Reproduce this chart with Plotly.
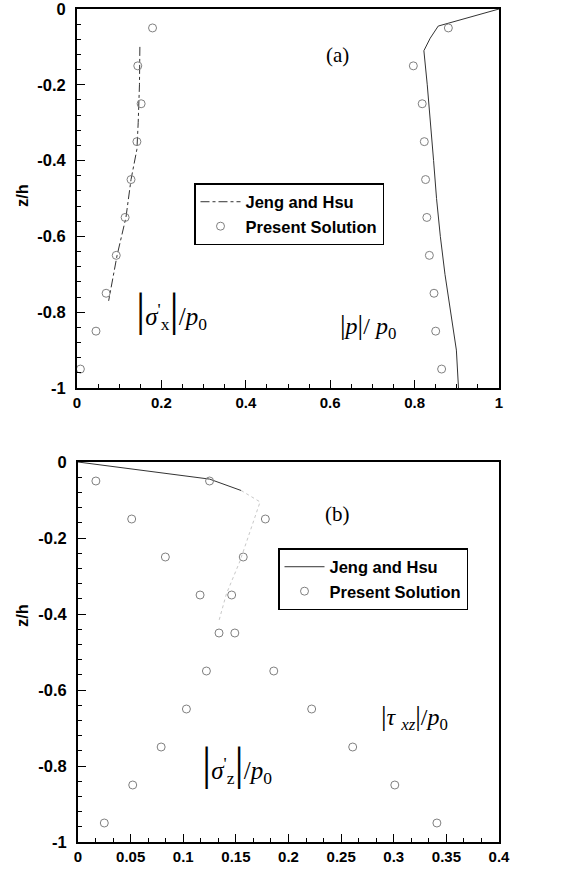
import plotly.graph_objects as go

# ---------------- data: panel (a) ----------------
z_markers = [-0.05, -0.15, -0.25, -0.35, -0.45, -0.55, -0.65, -0.75, -0.85, -0.95]
sx_present = [0.179, 0.144, 0.152, 0.142, 0.128, 0.114, 0.093, 0.069, 0.045, 0.008]
p_present = [0.880, 0.797, 0.818, 0.823, 0.826, 0.829, 0.835, 0.846, 0.850, 0.864]

sx_jh_z = [-0.10, -0.20, -0.30, -0.37, -0.45, -0.55, -0.65, -0.77]
sx_jh_x = [0.149, 0.148, 0.145, 0.142, 0.128, 0.116, 0.095, 0.075]
p_jh_z = [0.0, -0.045, -0.077, -0.11, -0.2, -0.3, -0.4, -0.5, -0.6, -0.7, -0.8, -0.9, -1.0]
p_jh_x = [1.0, 0.856, 0.837, 0.822, 0.830, 0.838, 0.845, 0.852, 0.861, 0.872, 0.886, 0.899, 0.904]

# ---------------- data: panel (b) ----------------
sz_present = [0.017, 0.051, 0.083, 0.116, 0.134, 0.122, 0.103, 0.079, 0.052, 0.025]
txz_present = [0.125, 0.178, 0.157, 0.146, 0.149, 0.186, 0.222, 0.261, 0.301, 0.341]
txz_jh_z = [0.0, -0.045, -0.075]
txz_jh_x = [0.0, 0.125, 0.155]
txz_faint_z = [-0.075, -0.105, -0.154, -0.26, -0.347, -0.417]
txz_faint_x = [0.155, 0.173, 0.167, 0.154, 0.141, 0.134]

# ---------------- tick labels ----------------
xa_ticks = [0, 0.2, 0.4, 0.6, 0.8, 1]
xa_text = ["0", "0.2", "0.4", "0.6", "0.8", "1"]
xb_ticks = [0, 0.05, 0.1, 0.15, 0.2, 0.25, 0.3, 0.35, 0.4]
xb_text = ["0", "0.05", "0.1", "0.15", "0.2", "0.25", "0.3", "0.35", "0.4"]
y_ticks = [0, -0.2, -0.4, -0.6, -0.8, -1]
y_text = ["0", "-0.2", "-0.4", "-0.6", "-0.8", "-1"]

W, H = 573, 874
ML, MR, MT, MB = 77, 74, 9, 32
PW, PH = W - ML - MR, H - MT - MB

def clamp(v):
    return max(0.0, min(1.0, v))

def px_x(x):
    return (x - ML) / PW

def px_y(y):
    return 1 - (y - MT) / PH

def bold(lst):
    return ["<b>%s</b>" % s for s in lst]

fig = go.Figure()

mk = dict(symbol="circle-open", size=8, color="#808080", line=dict(width=1, color="#808080"))
line_a = dict(color="#333333", width=1, dash="dashdot")

# panel (a)
fig.add_trace(go.Scatter(x=sx_jh_x, y=sx_jh_z, mode="lines", line=line_a,
                         name="Jeng and Hsu", legend="legend", legendgroup="a1",
                         xaxis="x", yaxis="y"))
fig.add_trace(go.Scatter(x=p_jh_x, y=p_jh_z, mode="lines", line=dict(color="#333333", width=1),
                         name="Jeng and Hsu", showlegend=False, legendgroup="a1",
                         xaxis="x", yaxis="y"))
fig.add_trace(go.Scatter(x=sx_present, y=z_markers, mode="markers", marker=mk,
                         name="Present Solution", legend="legend", legendgroup="a2",
                         xaxis="x", yaxis="y"))
fig.add_trace(go.Scatter(x=p_present, y=z_markers, mode="markers", marker=mk,
                         name="Present Solution", showlegend=False, legendgroup="a2",
                         xaxis="x", yaxis="y"))

# panel (b)
fig.add_trace(go.Scatter(x=txz_jh_x, y=txz_jh_z, mode="lines", line=dict(color="#333333", width=1),
                         name="Jeng and Hsu", legend="legend2", legendgroup="b1",
                         xaxis="x2", yaxis="y2"))
fig.add_trace(go.Scatter(x=txz_faint_x, y=txz_faint_z, mode="lines",
                         line=dict(color="#c8c8c8", width=1, dash="dot"),
                         showlegend=False, legendgroup="b1", xaxis="x2", yaxis="y2"))
fig.add_trace(go.Scatter(x=sz_present, y=z_markers, mode="markers", marker=mk,
                         name="Present Solution", legend="legend2", legendgroup="b2",
                         xaxis="x2", yaxis="y2"))
fig.add_trace(go.Scatter(x=txz_present, y=z_markers, mode="markers", marker=mk,
                         name="Present Solution", showlegend=False, legendgroup="b2",
                         xaxis="x2", yaxis="y2"))

xfont = dict(family="Liberation Sans, Arial", size=15, color="black")
yfont = dict(family="Liberation Sans, Arial", size=16.5, color="black")
common = dict(showline=True, linecolor="black", linewidth=2, mirror=True,
              ticks="inside", ticklen=8, tickwidth=1.3, tickcolor="black",
              showgrid=False, zeroline=False, automargin=False,
              ticklabeloverflow="allow")

top_dom = [clamp(px_y(388)), clamp(px_y(9))]
bot_dom = [clamp(px_y(842)), clamp(px_y(462))]
legfont = dict(family="Liberation Sans, Arial", size=16.5, color="black", weight="bold")

fig.update_layout(
    width=W, height=H,
    margin=dict(l=ML, r=MR, t=MT, b=MB),
    plot_bgcolor="white", paper_bgcolor="white",
    xaxis=dict(domain=[0, 1], range=[0, 1], anchor="y", tickmode="array",
               tickvals=xa_ticks, ticktext=bold(xa_text), tickfont=xfont,
               minor=dict(dtick=0.05, ticks="inside", ticklen=4, tickcolor="black"), **common),
    yaxis=dict(domain=top_dom, range=[-1, 0], anchor="x", tickmode="array",
               tickvals=y_ticks, ticktext=bold(y_text), tickfont=yfont, ticklabelstandoff=6,
               minor=dict(dtick=0.04, ticks="inside", ticklen=4, tickcolor="black"), **common),
    xaxis2=dict(domain=[clamp(px_x(78)), clamp(px_x(499))], range=[0, 0.4], anchor="y2",
                tickmode="array", tickvals=xb_ticks, ticktext=bold(xb_text), tickfont=xfont,
                minor=dict(dtick=0.05 / 3, ticks="inside", ticklen=4, tickcolor="black"), **common),
    yaxis2=dict(domain=bot_dom, range=[-1, 0], anchor="x2", tickmode="array",
                tickvals=y_ticks, ticktext=bold(y_text), tickfont=yfont, ticklabelstandoff=6,
                minor=dict(dtick=0.04, ticks="inside", ticklen=4, tickcolor="black"), **common),
    legend=dict(x=px_x(194), y=px_y(183), xanchor="left", yanchor="top",
                bgcolor="white", bordercolor="black", borderwidth=1.5,
                font=legfont, tracegroupgap=0, itemwidth=40),
    legend2=dict(x=px_x(278), y=px_y(548), xanchor="left", yanchor="top",
                 bgcolor="white", bordercolor="black", borderwidth=1.5,
                 font=legfont, tracegroupgap=0, itemwidth=40),
    showlegend=True,
)

serif = "Liberation Serif, Times New Roman, serif"
BIG = "<span style='font-size:46px'>|</span>"
MID = "<span style='font-size:28px'>|</span>"
ann = [
    dict(text="(a)", x=px_x(337), y=px_y(55), size=21),
    dict(text="(b)", x=px_x(337), y=px_y(514), size=21),
    dict(text=BIG + "<i>σ</i><sup>'</sup><sub>x</sub>" + BIG + "/<i>p</i><sub>0</sub>",
         x=px_x(171), y=px_y(309), size=25),
    dict(text=MID + "<i>p</i>" + MID + "/ <i>p</i><sub>0</sub>",
         x=px_x(368), y=px_y(326), size=24),
    dict(text=MID + "<i>τ</i> <sub><i>xz</i></sub>" + MID + "/<i>p</i><sub>0</sub>",
         x=px_x(414), y=px_y(717), size=24),
    dict(text=BIG + "<i>σ</i><sup>'</sup><sub>z</sub>" + BIG + "/<i>p</i><sub>0</sub>",
         x=px_x(237), y=px_y(763), size=25),
]
for a in ann:
    fig.add_annotation(text=a["text"], x=a["x"], y=a["y"], xref="paper", yref="paper",
                       showarrow=False, xanchor="center", yanchor="middle",
                       font=dict(family=serif, size=a["size"], color="black"))

for yy in (px_y(195), px_y(615)):
    fig.add_annotation(text="<b>z/h</b>", x=px_x(22), y=yy, xref="paper", yref="paper",
                       showarrow=False, textangle=-90, xanchor="center", yanchor="middle",
                       font=dict(family="Liberation Sans, Arial", size=16.5, color="black"))

# remove the browser's default 8px body margin so the figure fills the window exactly
fig.write_html("out.html", config={"displayModeBar": False},
               post_script="document.body.style.margin='0px';document.body.style.overflow='hidden';")
